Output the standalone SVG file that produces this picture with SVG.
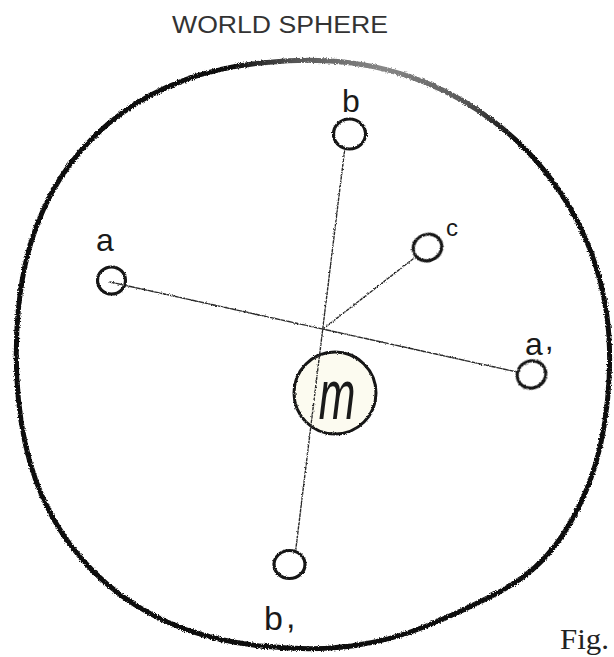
<svg xmlns="http://www.w3.org/2000/svg" width="614" height="657" viewBox="0 0 614 657">
  <style>
    .hand { font-family: "Liberation Sans", "DejaVu Sans", sans-serif; fill: #1a1a1a; }
    .node { fill: none; stroke: #151515; stroke-width: 3.2; }
    .conn { fill: none; stroke: #2a2a2a; stroke-width: 1.4; stroke-linecap: round; }
  </style>
  <defs>
    <filter id="rough" x="-5%" y="-5%" width="110%" height="110%">
      <feTurbulence type="fractalNoise" baseFrequency="0.9" numOctaves="2" seed="3" result="n"/>
      <feDisplacementMap in="SourceGraphic" in2="n" scale="2.5" xChannelSelector="R" yChannelSelector="G"/>
    </filter>
    <filter id="rough2" x="-5%" y="-5%" width="110%" height="110%">
      <feTurbulence type="fractalNoise" baseFrequency="0.7" numOctaves="2" seed="7" result="n"/>
      <feDisplacementMap in="SourceGraphic" in2="n" scale="3.5" xChannelSelector="R" yChannelSelector="G"/>
    </filter>
    <radialGradient id="topfade" gradientUnits="userSpaceOnUse" cx="385" cy="62" r="150">
      <stop offset="0" stop-color="#8a8a8a"/>
      <stop offset="0.6" stop-color="#555"/>
      <stop offset="1" stop-color="#111"/>
    </radialGradient>
  </defs>
  <rect width="614" height="657" fill="#ffffff"/>

  <g id="title">
    <text x="172" y="33" font-family="Liberation Sans, Arial, sans-serif" font-size="23" fill="#333" textLength="216" lengthAdjust="spacingAndGlyphs">WORLD SPHERE</text>
  </g>

  <g id="world-sphere" filter="url(#rough2)">
    <path fill="none" stroke="url(#topfade)" stroke-width="5" d="M 607.55,399.8 Q 603.1,445.6 589.95,481.05 Q 576.8,516.5 555.5,545.1 Q 534.2,573.7 498.35,592.45 Q 462.5,611.2 426.45,626.05 Q 390.4,640.9 351.7,645.95 Q 313,651 266.9,646.6 Q 220.8,642.2 185.1,629.15 Q 149.4,616.1 120.6,594.9 Q 91.8,573.7 70.5,545.1 Q 49.2,516.5 36.05,481.05 Q 22.9,445.6 18.45,399.8 Q 14,354 18.45,308.35 Q 22.9,262.7 36.05,227.35 Q 49.2,192 70.5,163.5 Q 91.8,135 120.6,113.9 Q 149.4,92.8 185.1,79.8 Q 220.8,66.8 266.9,62.4 Q 313,58 351.7,63.05 Q 390.4,68.1 426.45,82.9 Q 462.5,97.7 493.45,121.2 Q 524.4,144.7 548.15,175.35 Q 571.9,206 586.85,241.7 Q 601.8,277.4 606.9,315.7 Q 612,354 607.55,399.8 Z"/>
  </g>

  <g id="node-m">
    <circle cx="335" cy="393" r="41" fill="#fcfbf0" stroke="#151515" stroke-width="3" filter="url(#rough)"/>
    <text class="hand" font-style="italic" font-size="44" text-anchor="middle" transform="translate(337 419) scale(1 1.6)">m</text>
  </g>

  <g id="connectors" filter="url(#rough)">
    <line class="conn" x1="110" y1="282" x2="517" y2="372" stroke-dasharray="5 1.5"/>
    <line class="conn" x1="344.5" y1="151" x2="295.6" y2="551" stroke-dasharray="2.5 1.8"/>
    <line class="conn" x1="413" y1="259" x2="323" y2="329" stroke-dasharray="2.5 1.8"/>
  </g>

  <g id="node-b">
    <ellipse class="node" cx="349.5" cy="134" rx="16" ry="15" filter="url(#rough)"/>
    <text class="hand" x="351" y="112" font-size="32" text-anchor="middle">b</text>
  </g>

  <g id="node-a">
    <ellipse class="node" cx="111.5" cy="280.5" rx="14" ry="13.5" filter="url(#rough)"/>
    <text class="hand" x="105" y="251" font-size="32" text-anchor="middle">a</text>
  </g>

  <g id="node-c">
    <ellipse class="node" cx="427.5" cy="247.5" rx="14.5" ry="13" transform="rotate(-25 427.5 247.5)" filter="url(#rough)"/>
    <text class="hand" x="452" y="236" font-size="24" text-anchor="middle">c</text>
  </g>

  <g id="node-a1">
    <ellipse class="node" cx="531.5" cy="374.5" rx="14.5" ry="13.5" transform="rotate(-25 531.5 374.5)" filter="url(#rough)"/>
    <text class="hand" x="525" y="355" font-size="32">a<tspan dx="2" dy="-5">,</tspan></text>
  </g>

  <g id="node-b1">
    <ellipse class="node" cx="289.5" cy="564.5" rx="15.5" ry="14" filter="url(#rough)"/>
    <text class="hand" x="264" y="630" font-size="34">b<tspan dx="3" dy="-2">,</tspan></text>
  </g>

  <g id="caption">
    <text x="560" y="649" font-family="Liberation Serif, 'Times New Roman', serif" font-size="30" fill="#222" textLength="49" lengthAdjust="spacingAndGlyphs">Fig.</text>
  </g>
</svg>
